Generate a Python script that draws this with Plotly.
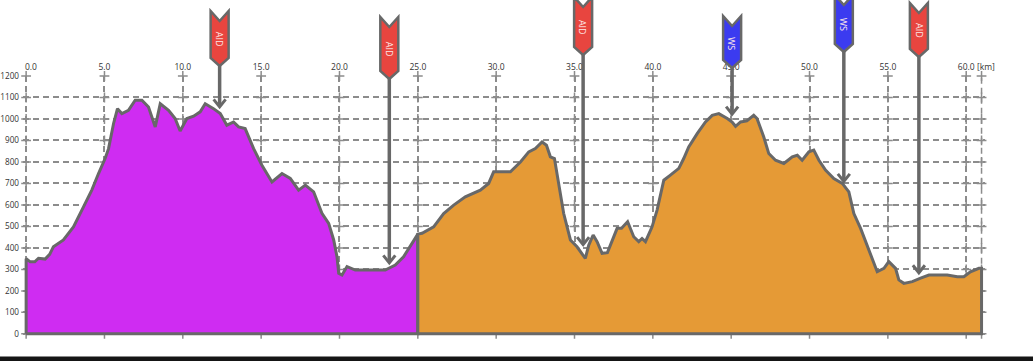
import plotly.graph_objects as go

# ---------------- data ----------------
seg1_km = [0.0, 0.26, 0.55, 0.79, 1.21, 1.5, 1.74, 2.38, 3.02, 3.66, 4.19, 4.62, 5.04, 5.26,
           5.58, 5.83, 6.11, 6.53, 6.96, 7.39, 7.81, 8.24, 8.56, 9.09, 9.51, 9.83, 10.26,
           10.69, 11.11, 11.43, 11.96, 12.39, 12.81, 13.24, 13.56, 13.98, 14.52, 15.05,
           15.69, 16.33, 16.86, 17.39, 17.82, 18.35, 18.88, 19.31, 19.63, 19.84, 19.95,
           20.16, 20.48, 21.01, 21.76, 22.39, 22.92, 23.56, 24.09, 24.63, 25.0]
seg1_elev = [350, 335, 335, 352, 348, 370, 405, 437, 498, 591, 669, 746, 816, 862,
             979, 1048, 1025, 1040, 1087, 1087, 1056, 963, 1071, 1040, 1002, 944, 1002,
             1013, 1033, 1071, 1048, 1025, 971, 986, 963, 955, 862, 785,
             707, 746, 723, 669, 692, 661, 561, 514, 437, 359, 282,
             274, 313, 297, 297, 297, 297, 320, 359, 421, 464]

seg2_km = [25.0, 25.27, 26.01, 26.65, 27.29, 28.03, 28.99, 29.52, 29.84, 30.48, 30.91, 31.55,
           32.08, 32.5, 32.93, 33.21, 33.46, 33.72, 34.0, 34.31, 34.74, 35.16, 35.69, 35.91,
           36.19, 36.44, 36.76, 37.1, 37.72, 38.0, 38.39, 38.78, 39.1, 39.31, 39.53, 39.95,
           40.27, 40.7, 41.12, 41.66, 41.97, 42.29, 42.83, 43.36, 43.79, 44.21, 44.75, 45.06,
           45.28, 45.6, 46.0, 46.44, 46.65, 47.08, 47.4, 47.83, 48.36, 48.9, 49.22, 49.53,
           49.96, 50.27, 50.6, 51.02, 51.55, 52.09, 52.51, 52.83, 53.26, 53.79, 54.32, 54.75,
           55.06, 55.49, 55.7, 56.02, 56.56, 57.09, 57.62, 58.15, 58.79, 59.43, 59.85, 60.27,
           60.81, 60.98]
seg2_elev = [464, 468, 498, 560, 599, 638, 669, 700, 754, 754, 754, 800,
             847, 862, 893, 878, 824, 816, 692, 560, 437, 405, 351, 413,
             460, 429, 375, 378, 491, 491, 522, 452, 429, 444, 429, 498,
             576, 715, 739, 770, 816, 870, 932, 986, 1017, 1025, 1002, 986,
             966, 986, 991, 1017, 1002, 916, 839, 808, 793, 824, 831, 808,
             847, 855, 808, 762, 723, 700, 661, 560, 491, 390, 289, 305,
             336, 305, 251, 235, 243, 259, 274, 274, 274, 266, 266, 289,
             305, 305]

station_labels = ["AID", "AID", "AID", "WS", "WS", "AID"]
station_km = [12.35, 23.18, 35.55, 45.06, 52.19, 56.98]
station_elev = [1054, 328, 413, 1020, 707, 282]

x_ticks = [0, 5, 10, 15, 20, 25, 30, 35, 40, 45, 50, 55, 60]
x_ticktext = ["\u2007\u20070.0", "5.0", "10.0", "15.0", "20.0", "25.0", "30.0", "35.0",
              "40.0", "45.0", "50.0", "55.0", "60.0"]
y_ticks = [0, 100, 200, 300, 400, 500, 600, 700, 800, 900, 1000, 1100, 1200]
unit_label = "[km]"

# ---------------- style ----------------
W, H = 1033, 361
ML, MR, MT, MB = 23, 48, 76, 25
PH = H - MT - MB
X_RANGE = [-0.2, 61.2]
Y_RANGE = [-10, 1200]
FONT = "Open Sans"
OUTLINE = "#686868"
GRID = "#8c8c8c"
PURPLE = "#cf2cf2"
ORANGE = "#e59a36"
FLAG_COLORS = {"AID": "#e8453f", "WS": "#3b3bf0"}
# flag geometry in page pixels (top corners / bottom point)
flag_top_py = [11, 17, -3, 16, -5, 3]
flag_point_py = [66, 79, 55, 68, 52, 57]
NOTCH, POINT, HALF_W = 10, 8, 9


def y_paper(v):
    return (v - Y_RANGE[0]) / (Y_RANGE[1] - Y_RANGE[0])


def off_top(py):
    # pixel offset upward relative to the top of the plot area
    return MT - py


fig = go.Figure()

# intersection crosses of the grid
gx = x_ticks + [seg2_km[-1]]
cross_x = [x for x in gx for _ in y_ticks]
cross_y = [y for _ in gx for y in y_ticks]
fig.add_trace(go.Scatter(x=cross_x, y=cross_y, mode="markers", cliponaxis=False,
                         marker=dict(symbol="cross-thin", size=7,
                                     line=dict(color=GRID, width=1.5)),
                         hoverinfo="skip", showlegend=False))

for km, elev, col in [(seg1_km, seg1_elev, PURPLE), (seg2_km, seg2_elev, ORANGE)]:
    xs = [km[0]] + km + [km[-1], km[0]]
    ys = [0] + elev + [0, 0]
    fig.add_trace(go.Scatter(x=xs, y=ys, mode="lines", fill="toself", fillcolor=col,
                             line=dict(color=OUTLINE, width=3), hoverinfo="skip",
                             showlegend=False))

shapes = []
annotations = []
# right border dashed line
shapes.append(dict(type="line", xref="x", yref="y", x0=seg2_km[-1], x1=seg2_km[-1],
                   y0=0, y1=Y_RANGE[1], line=dict(color=GRID, width=1.5, dash="6px,4px"),
                   layer="below"))

for i, lab in enumerate(station_labels):
    km = station_km[i]
    top = off_top(flag_top_py[i])
    pt = off_top(flag_point_py[i])
    # stem
    shapes.append(dict(type="line", xref="x", yref="paper", x0=km, x1=km,
                       y0=1 + pt / PH, y1=y_paper(station_elev[i]) + 1.5 / PH,
                       line=dict(color=OUTLINE, width=3.5)))
    # arrow head (chevron)
    shapes.append(dict(type="path", xref="x", yref="paper", xsizemode="pixel",
                       ysizemode="pixel", xanchor=km, yanchor=y_paper(station_elev[i]),
                       path="M -6,8 L 0,0.5 L 6,8",
                       line=dict(color=OUTLINE, width=3)))
    # flag body
    path = (f"M {-HALF_W},{pt + POINT} L {-HALF_W},{top} L 0,{top - NOTCH} "
            f"L {HALF_W},{top} L {HALF_W},{pt + POINT} L 0,{pt} Z")
    shapes.append(dict(type="path", xref="x", yref="paper", xsizemode="pixel",
                       ysizemode="pixel", xanchor=km, yanchor=1, path=path,
                       fillcolor=FLAG_COLORS[lab], line=dict(color=OUTLINE, width=2.5)))
    mid = ((top - NOTCH) + (pt + POINT)) / 2
    annotations.append(dict(x=km, xref="x", y=1 + mid / PH, yref="paper", text=lab,
                            showarrow=False, textangle=90,
                            font=dict(family=FONT, size=9, color="#fde8e8"),
                            xanchor="center", yanchor="middle"))

# unit label next to the last tick label
annotations.append(dict(x=x_ticks[-1], xref="x", y=1, yref="paper", text=unit_label,
                        showarrow=False, xanchor="left", yanchor="bottom", xshift=9,
                        yshift=2, font=dict(family=FONT, size=8.5, color="#333")))

# dark strip at the bottom of the page
shapes.append(dict(type="rect", xref="paper", yref="paper", x0=-0.1, x1=1.2,
                   y0=-0.3, y1=-(20.5 / PH), fillcolor="#151515", line=dict(width=0)))

fig.update_layout(
    width=W, height=H, margin=dict(l=ML, r=MR, t=MT, b=MB, autoexpand=False),
    paper_bgcolor="white", plot_bgcolor="white",
    font=dict(family=FONT, size=8.5, color="#333"),
    shapes=shapes, annotations=annotations, showlegend=False,
    xaxis=dict(range=X_RANGE, side="top", tickvals=x_ticks, ticktext=x_ticktext,
               showgrid=True, gridcolor=GRID, gridwidth=1.5, griddash="6px,4px",
               zeroline=False, showline=False, ticks="", fixedrange=True,
               automargin=False, ticklabelstandoff=3),
    yaxis=dict(range=Y_RANGE, tickvals=y_ticks, showgrid=True, gridcolor=GRID,
               gridwidth=1.5, griddash="6px,4px", zeroline=False, showline=False,
               ticks="", fixedrange=True, automargin=False, ticklabelstandoff=3,
               tickfont=dict(family=FONT, size=8.2, color="#333")),
)

fig.write_html("out.html", config={"displayModeBar": False},
               post_script="document.body.style.margin='0';document.body.style.overflow='hidden';")
